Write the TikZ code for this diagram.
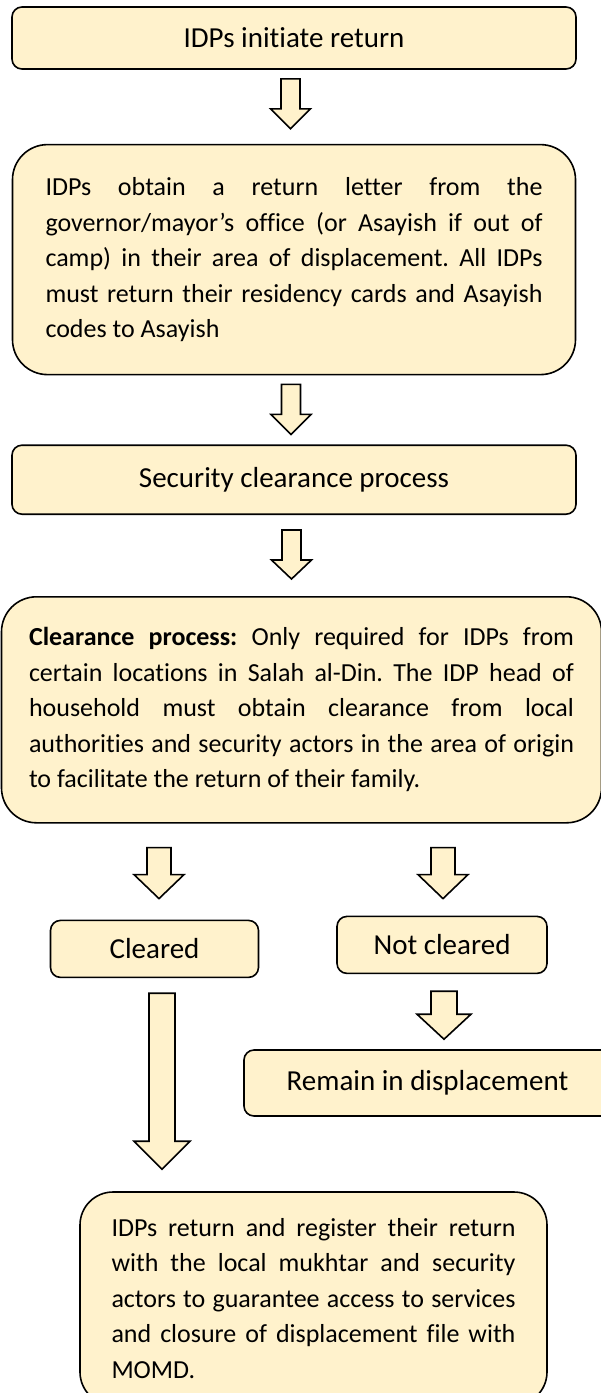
\documentclass[tikz,border=0pt]{standalone}
\usepackage{fontspec}
\setmainfont{Carlito}[Ligatures=CommonOff]
\usetikzlibrary{positioning,calc}
\definecolor{boxfill}{HTML}{FFF2CC}
\frenchspacing
\hyphenpenalty=10000
\exhyphenpenalty=10000
\tolerance=10000
\tikzset{
    %Define style for boxes
    stage/.style={
           rectangle,
           rounded corners=10pt,
           draw=black, line width=1.6pt,
           fill=boxfill,
           inner sep=0pt,
           font=\fontsize{29}{35}\selectfont,
           text centered},
    stagetext/.style={
           stage,
           rounded corners=35pt,
           align=justify,
           font=\fontsize{26}{35.5}\selectfont},
    % Define block arrow: length/shaft half width/head half width/head length
    pics/fatarrow/.style args={#1/#2/#3/#4}{code={
        \draw[line width=1.6pt, fill=boxfill]
            (-#2,0) -- (#2,0) -- (#2,#1-#4) -- (#3,#1-#4) -- (0,#1)
            -- (-#3,#1-#4) -- (-#2,#1-#4) -- cycle;
    }}
}
\begin{document}
\begin{tikzpicture}[x=1pt,y=-1pt]
\useasboundingbox (0,0) rectangle (601,1393);
 %nodes
\node[stage, minimum width=564pt, minimum height=62pt] (init) at (294,38) {IDPs initiate return};
\node[stagetext, minimum width=563pt, minimum height=230pt, text width=497pt, below=74pt of init] (letter)
  {IDPs obtain a return letter from the\linebreak governor/mayor’s office (or Asayish if out of\linebreak camp) in their area of displacement. All IDPs\linebreak must return their residency cards and Asayish\linebreak codes to Asayish};
\node[stage, minimum width=564pt, minimum height=69pt, below=69pt of letter] (security) {Security clearance process};
\node[stagetext, minimum width=600pt, minimum height=226pt, text width=545pt, below=81pt of security, xshift=7.5pt] (clearance)
  {\textbf{Clearance process:} Only required for IDPs from\linebreak certain locations in Salah al-Din. The IDP head of\linebreak household must obtain clearance from local\linebreak authorities and security actors in the area of origin\linebreak to facilitate the return of their family.};
\node[stage, minimum width=208pt, minimum height=57pt, below=96pt of clearance.south, xshift=-147pt] (cleared) {Cleared};
\node[stage, minimum width=210pt, minimum height=57pt, below=92pt of clearance.south, xshift=140.5pt] (notcleared) {Not cleared};
\node[stage, minimum width=367pt, minimum height=66pt, below=75pt of notcleared.south, xshift=-14.5pt] (remain) {Remain in displacement};
\node[stagetext, rounded corners=33pt, minimum width=467pt, minimum height=213pt, text width=404pt, below=213pt of cleared.south, xshift=159pt] (return)
  {IDPs return and register their return\linebreak with the local mukhtar and security\linebreak actors to guarantee access to services\linebreak and closure of displacement file with\linebreak MOMD.};

 %arrows
\pic at ($(init.south)+(-3.5,9)$) {fatarrow={50/9.5/20/20}};
\pic at ($(letter.south)+(-3,9)$) {fatarrow={50/9.5/20/20}};
\pic at ($(security.south)+(-2.5,15)$) {fatarrow={49/9.5/20/19}};
\pic at ($(clearance.south)+(-142.5,24)$) {fatarrow={51/12/25/24}};
\pic at ($(clearance.south)+(141.5,24)$) {fatarrow={51/12/25/24}};
\pic at ($(cleared.south)+(7.5,15)$) {fatarrow={176/13/28/28}};
\pic at ($(notcleared.south)+(2,17)$) {fatarrow={48/13/27/25}};

\end{tikzpicture}
\end{document}
